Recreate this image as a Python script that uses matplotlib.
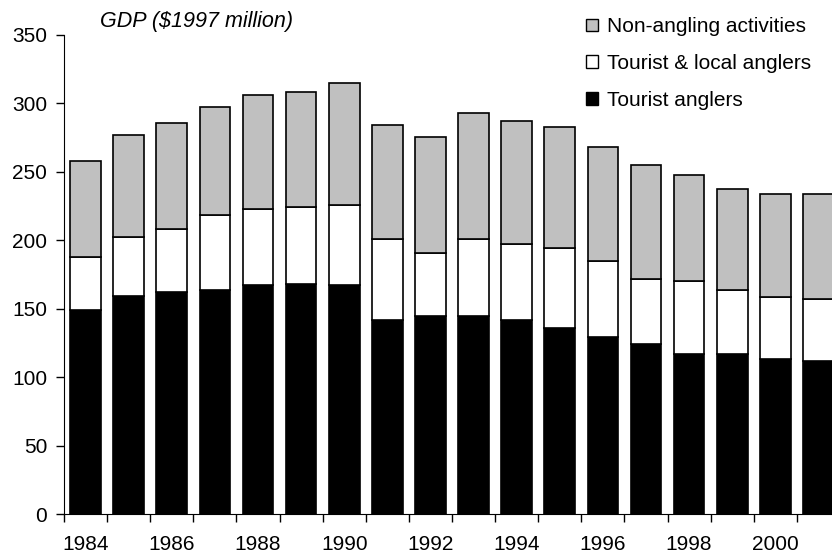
import numpy as np
import matplotlib
matplotlib.use('Agg')
import matplotlib.pyplot as plt
from matplotlib.patches import Patch

plt.rcParams['font.family'] = ['Liberation Sans', 'DejaVu Sans']

years = list(range(1984, 2002))
# tourist anglers (bottom, black)
tourist = [149, 159, 162.5, 164, 167, 168, 167, 142, 144.5, 145, 142, 136, 129, 124, 117, 117, 113, 111.5]
# tourist & local anglers (top of white segment)
tourist_local = [188, 202.5, 208.5, 218.5, 223, 224.5, 226, 201, 191, 201, 197, 194, 185, 172, 170, 164, 158.5, 157]
# total incl. non-angling activities (top of grey segment)
total = [258, 277, 286, 297.5, 306.5, 308, 315, 284.5, 275.5, 293, 287, 283, 268.5, 255, 248, 237.5, 233.5, 233.5]

local = np.array(tourist_local) - np.array(tourist)
non_angling = np.array(total) - np.array(tourist_local)

fig = plt.figure(figsize=(8.32, 5.55), dpi=100)
ax = fig.add_axes([64/832, 41/555, 776/832, 479/555])

x = np.arange(len(years))
w = 0.71
ax.bar(x, tourist, w, color='black', edgecolor='black', linewidth=1.2)
ax.bar(x, local, w, bottom=tourist, color='white', edgecolor='black', linewidth=1.2)
ax.bar(x, non_angling, w, bottom=tourist_local, color='#c0c0c0', edgecolor='black', linewidth=1.2)

ax.set_xlim(-0.5, len(years) - 0.5)
ax.set_ylim(0, 350)
ax.set_yticks(range(0, 351, 50))
ax.set_xticks(np.arange(-0.5, len(years), 1))
ax.set_xticklabels([])
ax.set_xticks(x[::2], minor=True)
ax.set_xticklabels([str(y) for y in years[::2]], minor=True)
ax.tick_params(axis='x', which='major', direction='out', length=6, width=1)
ax.tick_params(axis='x', which='minor', length=0, pad=15, labelsize=15)
ax.tick_params(axis='y', direction='out', length=6, width=1, pad=6, labelsize=15)
for s in ['top', 'right']:
    ax.spines[s].set_visible(False)

fig.text(100/832, 1 - 22/555, 'GDP ($1997 million)', style='italic', fontsize=15.5, va='center', ha='left')

handles = [Patch(facecolor='#c0c0c0', edgecolor='black', linewidth=1),
           Patch(facecolor='white', edgecolor='black', linewidth=1),
           Patch(facecolor='black', edgecolor='black', linewidth=1)]
labels = ['Non-angling activities', 'Tourist & local anglers', 'Tourist anglers']
fig.legend(handles, labels, loc='upper left', bbox_to_anchor=(578/832, 1 - 9/555),
           frameon=False, fontsize=15, handlelength=0.55, handleheight=0.55,
           handletextpad=0.45, labelspacing=0.85, borderaxespad=0)

fig.savefig('out.png', dpi=100)
